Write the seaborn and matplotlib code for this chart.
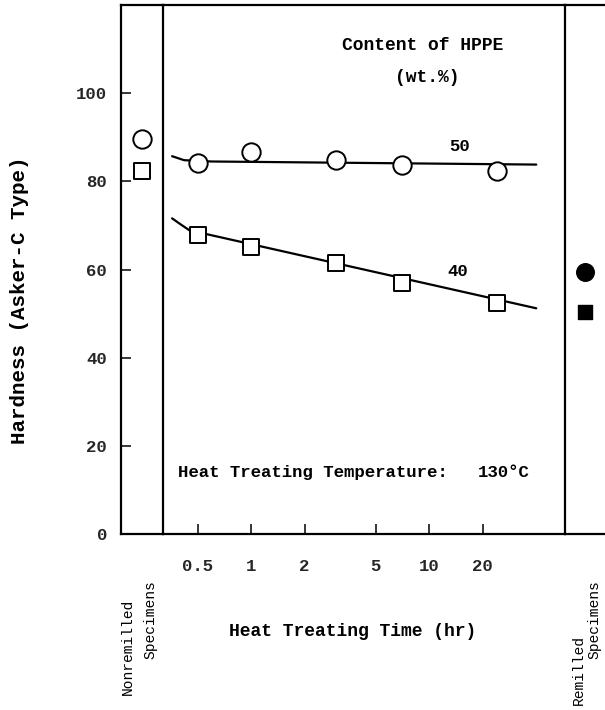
import matplotlib
matplotlib.use("Agg")
import matplotlib.pyplot as plt
import matplotlib.transforms as mtrans
import seaborn as sns
import pandas as pd

# ---- data ----
time_hr = [0.5, 1, 3, 7, 24]
hard_50 = [84.1, 86.7, 84.8, 83.8, 82.4]
hard_40 = [67.8, 65.0, 61.4, 57.0, 52.5]

fit_t_50 = [0.36, 0.42, 0.6, 40]
fit_h_50 = [85.7, 84.8, 84.5, 83.8]
fit_t_40 = [0.36, 0.40, 0.45, 40]
fit_h_40 = [71.6, 70.3, 68.9, 51.2]

nonremilled_50 = [89.7]
nonremilled_40 = [82.3]
remilled_50 = [59.5]
remilled_40 = [50.4]

xticks = [0.5, 1, 2, 5, 10, 20]
xtick_labels = ["0.5", "1", "2", "5", "10", "20"]
yticks = [0, 20, 40, 60, 80, 100]
ytick_labels = ["0", "20", "40", "60", "80", "100"]

sns.set_style("ticks")
plt.rcParams['font.family'] = ['Liberation Mono', 'DejaVu Sans Mono']
plt.rcParams['font.weight'] = 'bold'

W, H = 605, 710
fig = plt.figure(figsize=(W / 100, H / 100), dpi=100)


def box(x0, x1, y0, y1):
    return [x0 / W, 1 - y1 / H, (x1 - x0) / W, (y1 - y0) / H]


axL = fig.add_axes(box(121, 163, 5, 534))
axM = fig.add_axes(box(163, 565, 5, 534))
axR = fig.add_axes(box(565, 605, 5, 534))

LW = 1.6
for ax in (axL, axM, axR):
    ax.set_ylim(0, 120)
    for s in ax.spines.values():
        s.set_linewidth(LW)
        s.set_color('black')
    ax.patch.set_visible(False)

# ---- main panel ----
df50 = pd.DataFrame({"t": time_hr, "h": hard_50})
df40 = pd.DataFrame({"t": time_hr, "h": hard_40})
sns.lineplot(x=fit_t_50, y=fit_h_50, color='black', lw=1.6, ax=axM,
             sort=False, estimator=None, zorder=2)
sns.lineplot(x=fit_t_40, y=fit_h_40, color='black', lw=1.6, ax=axM,
             sort=False, estimator=None, zorder=2)
sns.scatterplot(data=df50, x="t", y="h", marker='o', s=175, color='white',
                edgecolor='black', linewidth=1.4, ax=axM, zorder=3)
sns.scatterplot(data=df40, x="t", y="h", marker='s', s=130, color='white',
                edgecolor='black', linewidth=1.4, ax=axM, zorder=3)
axM.set_xscale('log')
axM.set_xlim(0.32, 58)
axM.set_xticks(xticks)
axM.set_xticklabels(xtick_labels)
axM.minorticks_off()
axM.set_yticks([])
axM.tick_params(axis='x', direction='in', length=7, width=1.3, pad=18,
                labelsize=12.5)
axM.set_xlabel("")
axM.set_ylabel("")

txt = dict(color='black', fontweight='bold')
blend = mtrans.blended_transform_factory(axM.transAxes, axM.transData)
axM.text(14.9, 87.8, "50", ha='center', va='center', fontsize=12.5, **txt)
axM.text(14.5, 59.5, "40", ha='center', va='center', fontsize=12.5, **txt)
axM.text(9.14, 110.9, "Content of HPPE", ha='center', va='center',
         fontsize=13, **txt)
axM.text(9.75, 103.6, "(wt.%)", ha='center', va='center', fontsize=13, **txt)
axM.text((178 - 163) / 402, 13.9, "Heat Treating Temperature:", ha='left',
         va='center', fontsize=12.5, transform=blend, **txt)
axM.text((478 - 163) / 402, 13.9, "130°C", ha='left', va='center',
         fontsize=12.5, transform=blend, **txt)

# ---- left panel (nonremilled) ----
sns.scatterplot(x=[0.5], y=nonremilled_50, marker='o', s=175, color='white',
                edgecolor='black', linewidth=1.4, ax=axL, zorder=3)
sns.scatterplot(x=[0.5], y=nonremilled_40, marker='s', s=130, color='white',
                edgecolor='black', linewidth=1.4, ax=axL, zorder=3)
axL.set_xlim(0, 1)
axL.set_xticks([])
axL.set_yticks(yticks)
axL.set_yticklabels(ytick_labels)
axL.tick_params(axis='y', direction='in', length=7, width=1.3, pad=10,
                labelsize=12.5)
axL.spines['right'].set_visible(False)

# ---- right panel (remilled) ----
sns.scatterplot(x=[0.5], y=remilled_50, marker='o', s=160, color='black',
                edgecolor='black', linewidth=1.0, ax=axR, zorder=3)
sns.scatterplot(x=[0.5], y=remilled_40, marker='s', s=110, color='black',
                edgecolor='black', linewidth=1.0, ax=axR, zorder=3)
axR.set_xlim(0, 1)
axR.set_xticks([])
axR.set_yticks([])
axR.spines['left'].set_visible(False)
axR.spines['right'].set_visible(False)
for ax in (axL, axR):
    ax.set_xlabel("")
    ax.set_ylabel("")

# ---- figure-level labels ----
fig.text(20 / W, 1 - 300 / H, "Hardness (Asker-C Type)", rotation=90,
         ha='center', va='center', fontsize=15, **txt)
fig.text(352.5 / W, 1 - 631.7 / H, "Heat Treating Time (hr)", ha='center',
         va='center', fontsize=13, **txt)
small = dict(rotation=90, ha='center', va='bottom', fontsize=10.5,
             color='black', fontweight='normal')
fig.text(128 / W, 1 - 695 / H, "Nonremilled", **small)
fig.text(150 / W, 1 - 659 / H, "Specimens", **small)
fig.text(579 / W, 1 - 705 / H, "Remilled", **small)
fig.text(594 / W, 1 - 659 / H, "Specimens", **small)

fig.savefig("out.png", dpi=100, facecolor='white')
